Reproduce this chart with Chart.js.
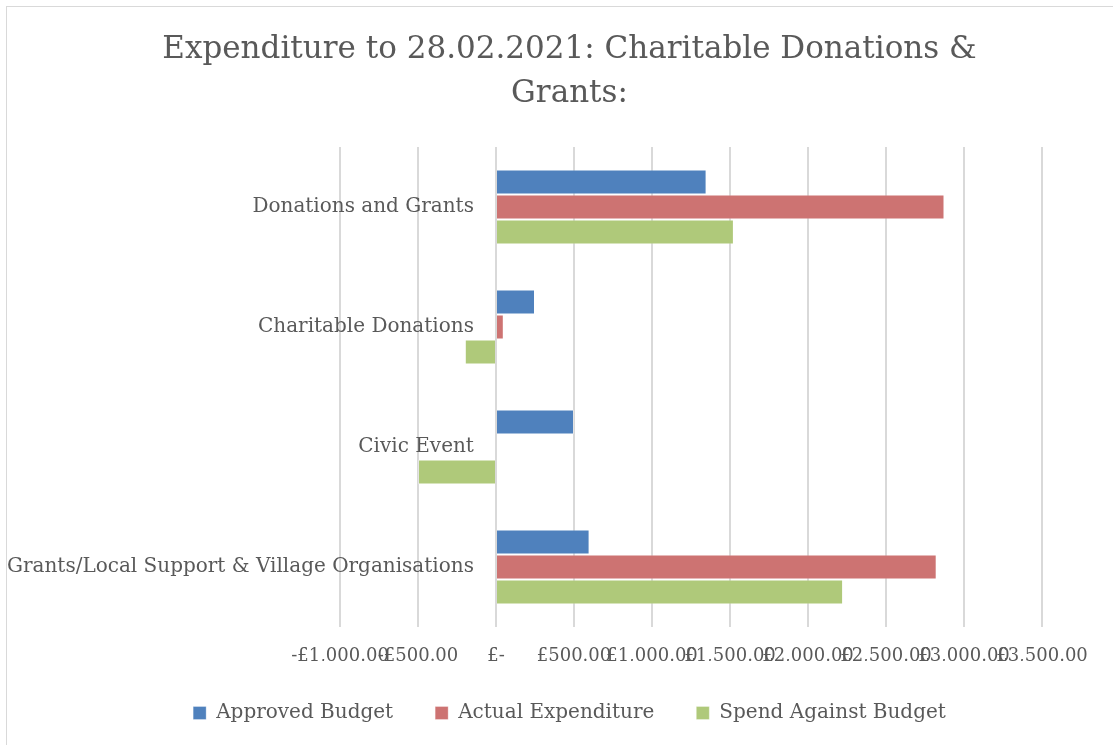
<!DOCTYPE html>
<html>
<head>
<meta charset="utf-8">
<script src="https://cdn.jsdelivr.net/npm/chart.js"></script>
<style>
  body { margin: 0; background: #fff; }
  .wrap { position: relative; width: 1113px; height: 745px; }
  .frame { position: absolute; left: 6px; top: 6px; width: 1130px; height: 760px; border: 1px solid #d9d9d9; pointer-events: none; }
</style>
</head>
<body>
<div class="wrap">
  <canvas id="myChart" width="1113" height="745"></canvas>
  <div class="frame"></div>
</div>
<script>
const categories = ['Donations and Grants', 'Charitable Donations', 'Civic Event', 'Grants/Local Support & Village Organisations'];
const approvedBudget = [1350, 250, 500, 600];
const actualExpenditure = [2875, 50, 0, 2825];
const spendAgainstBudget = [1525, -200, -500, 2225];
const xMin = -1000;
const xMax = 3500;
const xStep = 500;

const FONT = '"DejaVu Serif", serif';
const GREY = '#595959';

// accounting style: £-  /  -£1,000.00
function money(v) {
    if (v === 0) return '£-';
    const s = '£' + Math.abs(v).toFixed(2).replace(/\B(?=(\d{3})+(?!\d))/g, ',');
    return v < 0 ? '-' + s : s;
}

const ctx = document.getElementById('myChart');

new Chart(ctx, {
    type: 'bar',
    data: {
        labels: categories,
        datasets: [
            { label: 'Approved Budget', data: approvedBudget, backgroundColor: '#4F81BD' },
            { label: 'Actual Expenditure', data: actualExpenditure, backgroundColor: '#CD7372' },
            { label: 'Spend Against Budget', data: spendAgainstBudget, backgroundColor: '#AFC97A' }
        ]
    },
    options: {
        indexAxis: 'y',
        responsive: false,
        animation: false,
        datasets: {
            bar: { categoryPercentage: 0.625, barPercentage: 1.0, borderColor: 'rgba(255,255,255,0.3)', borderWidth: 1 }
        },
        layout: { padding: { left: 26, right: 0, top: 0, bottom: 12 } },
        plugins: {
            title: {
                display: true,
                text: ['Expenditure to 28.02.2021: Charitable Donations &', 'Grants:'],
                color: GREY,
                font: { family: FONT, size: 31, weight: 'normal', lineHeight: 1.45 },
                padding: { top: 27, bottom: 30 }
            },
            legend: {
                position: 'bottom',
                labels: { color: GREY, font: { family: FONT, size: 20 }, boxWidth: 13, boxHeight: 13, padding: 42 }
            },
            tooltip: { enabled: false }
        },
        scales: {
            x: {
                min: xMin,
                max: xMax,
                ticks: { stepSize: xStep, autoSkip: false, maxRotation: 0, color: GREY, font: { family: FONT, size: 18 }, padding: 19, callback: (v) => money(v) },
                grid: { color: '#d9d9d9', lineWidth: 2, drawTicks: false },
                border: { display: false },
                afterFit: (s) => { s.height = 34; }
            },
            y: {
                position: 'left',
                grid: { display: false, drawTicks: false },
                border: { display: false },
                // mirrored + far-aligned so the names end just left of the zero line
                ticks: { color: GREY, font: { family: FONT, size: 20 }, mirror: true, crossAlign: 'far', padding: -333 },
                afterFit: (s) => { s.width = 314; }
            },
            yRight: {
                type: 'category',
                position: 'right',
                grid: { display: false, drawTicks: false },
                border: { display: false },
                ticks: { display: false },
                afterFit: (s) => { s.width = 71; }
            }
        }
    }
});
</script>
</body>
</html>
